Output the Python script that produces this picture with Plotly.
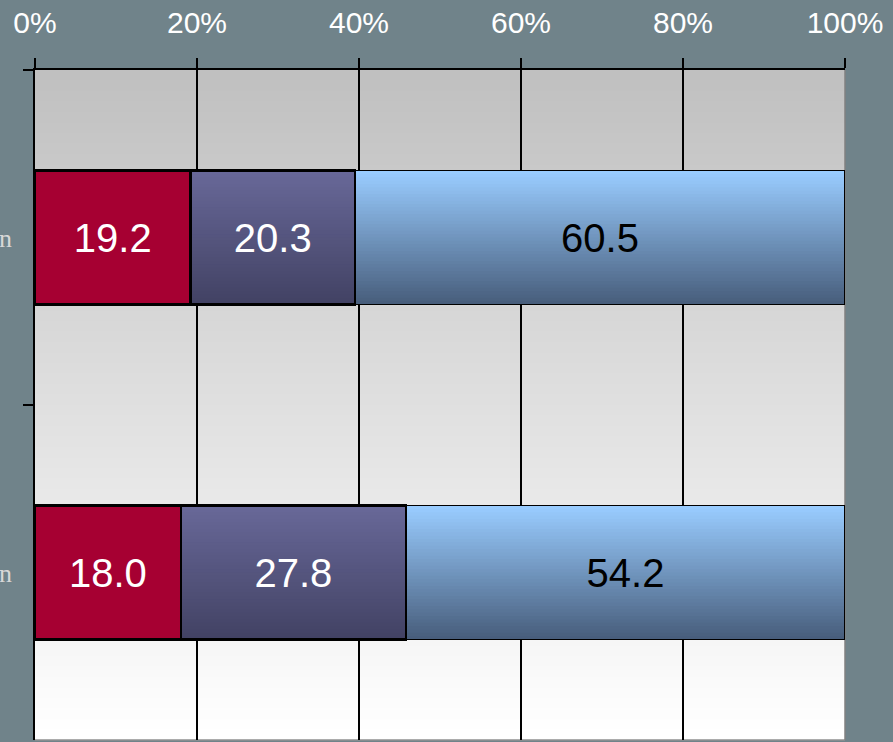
import plotly.graph_objects as go

# data
categories = ["Women", "Men"]
series_names = ["Group A", "Group B", "Group C"]
group_a = [19.2, 18.0]
group_b = [20.3, 27.8]
group_c = [60.5, 54.2]
x_ticks = [0, 20, 40, 60, 80, 100]
x_tick_labels = ["0%", "20%", "40%", "60%", "80%", "100%"]

BAR_WIDTH = 0.4
N_BANDS = 40
FONT = "Liberation Sans, Arial"


def lerp(c0, c1, t):
    return "rgb(%d,%d,%d)" % tuple(round(a + (b - a) * t) for a, b in zip(c0, c1))


def gradient_shapes(starts, widths, top_col, bottom_col):
    """vertical gradient fill for bar segments, placed in data coords"""
    shapes = []
    h = BAR_WIDTH / N_BANDS
    for i, (x0, w) in enumerate(zip(starts, widths)):
        bottom = i + BAR_WIDTH / 2
        for k in range(N_BANDS):
            shapes.append(dict(
                type="rect", xref="x", yref="y", layer="between",
                x0=x0, x1=x0 + w, y0=i - BAR_WIDTH / 2 + k * h, y1=bottom,
                fillcolor=lerp(top_col, bottom_col, k / (N_BANDS - 1)),
                line=dict(width=0),
            ))
    return shapes


fig = go.Figure()

fig.add_trace(go.Bar(
    y=categories, x=group_a, name=series_names[0], orientation="h",
    width=BAR_WIDTH,
    marker=dict(color="#a60032", line=dict(color="black", width=2.5)),
    text=[f"{v:.1f}" for v in group_a], textposition="inside",
    insidetextanchor="middle",
    textfont=dict(color="white", size=40, family=FONT),
))
fig.add_trace(go.Bar(
    y=categories, x=group_b, name=series_names[1], orientation="h",
    width=BAR_WIDTH,
    marker=dict(color="rgba(0,0,0,0)", line=dict(color="black", width=2.5)),
    text=[f"{v:.1f}" for v in group_b], textposition="inside",
    insidetextanchor="middle",
    textfont=dict(color="white", size=40, family=FONT),
))
fig.add_trace(go.Bar(
    y=categories, x=group_c, name=series_names[2], orientation="h",
    width=BAR_WIDTH,
    marker=dict(color="rgba(0,0,0,0)", line=dict(color="black", width=1.5)),
    text=[f"{v:.1f}" for v in group_c], textposition="inside",
    insidetextanchor="middle",
    textfont=dict(color="black", size=40, family=FONT),
))

# plot area background gradient (grey top -> white bottom)
shapes = []
n_bg = 64
for k in range(n_bg):
    shapes.append(dict(
        type="rect", xref="paper", yref="paper", layer="below",
        x0=0, x1=1, y0=0, y1=1 - k / n_bg,
        fillcolor=lerp((192, 192, 192), (255, 255, 255), k / (n_bg - 1)),
        line=dict(width=0),
    ))

b_start = list(group_a)
c_start = [a + b for a, b in zip(group_a, group_b)]
shapes += gradient_shapes(b_start, group_b, (104, 104, 152), (66, 66, 100))
shapes += gradient_shapes(c_start, group_c, (153, 204, 255), (72, 94, 124))

# bottom and right frame
shapes.append(dict(type="line", xref="paper", yref="paper", x0=0, x1=1, y0=0, y1=0,
                   line=dict(color="#909090", width=1.5), layer="between"))
shapes.append(dict(type="line", xref="paper", yref="paper", x0=1, x1=1, y0=0, y1=1,
                   line=dict(color="#808080", width=1.5), layer="below"))

fig.update_layout(
    barmode="stack",
    showlegend=False,
    width=893, height=742,
    margin=dict(l=35, r=48, t=70, b=2, autoexpand=False),
    paper_bgcolor="#70838a",
    plot_bgcolor="white",
    shapes=shapes,
    bargap=0.6,
)

fig.update_xaxes(
    side="top", range=[0, 100], tickvals=x_ticks, ticktext=x_tick_labels,
    showline=True, linecolor="black", linewidth=1.5,
    ticks="outside", ticklen=10, tickcolor="black", tickwidth=1.5,
    showgrid=True, gridcolor="black", gridwidth=1.5,
    zeroline=False,
    tickfont=dict(color="white", size=30, family=FONT),
    ticklabelstandoff=13,
)
fig.update_yaxes(
    autorange="reversed",
    showline=True, linecolor="black", linewidth=1.5,
    ticks="outside", ticklen=10, tickcolor="black", tickwidth=1.5,
    tickson="boundaries", showgrid=False, automargin=False,
    tickfont=dict(color="#d8d8d8", size=26, family="Liberation Serif, serif"),
    ticklabelstandoff=16,
)

fig.write_html("out.html", config={"displayModeBar": False},
               post_script="document.body.style.margin='0';")
